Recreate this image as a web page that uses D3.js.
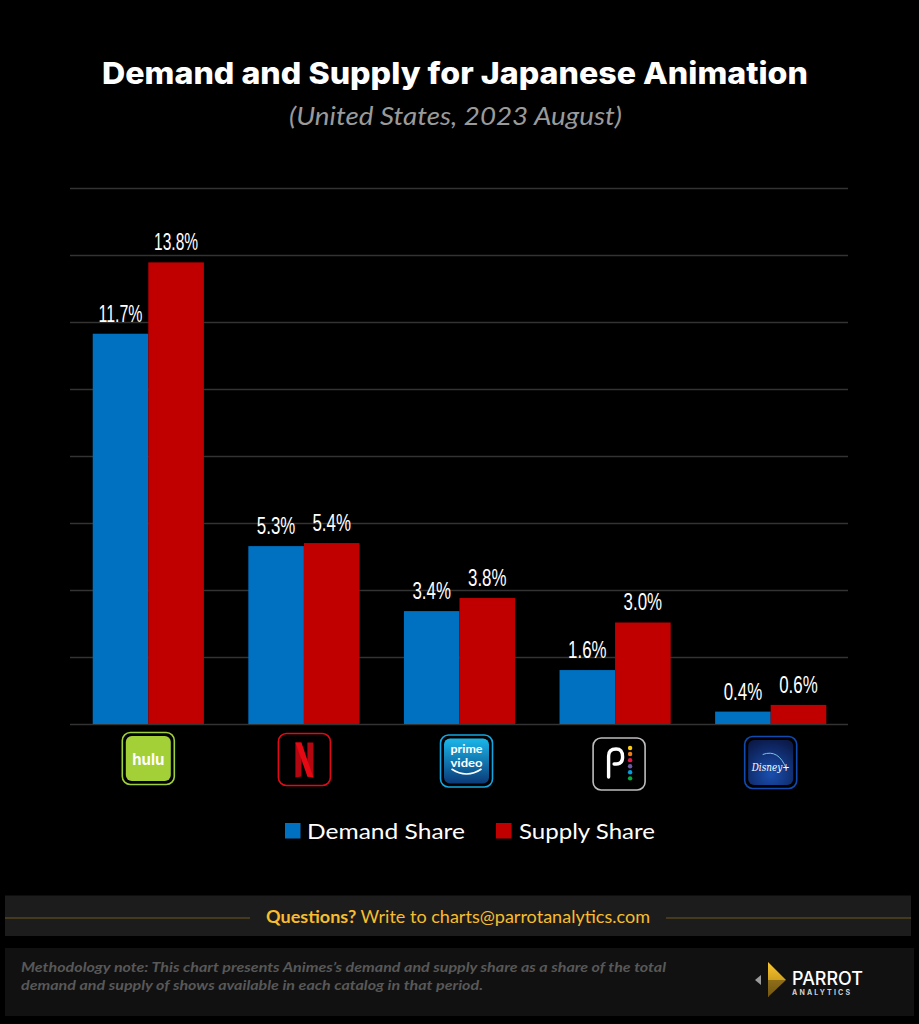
<!DOCTYPE html>
<html>
<head>
<meta charset="utf-8">
<title>Demand and Supply for Japanese Animation</title>
<script src="https://cdn.jsdelivr.net/npm/d3@7"></script>
<style>
  html, body { margin: 0; padding: 0; background: #000; }
  svg { display: block; font-family: "Lato", "Noto Sans", sans-serif; }
  .grid line { stroke: #333; stroke-width: 1.3; }
  .grid .domain { display: none; }
  .grid text { display: none; }
  .value { font-family: "Liberation Sans", sans-serif; fill: #fff; font-size: 23px; text-anchor: middle; }
</style>
</head>
<body>
<svg id="chart" width="919" height="1024"></svg>
<script>
var platforms = ["Hulu", "Netflix", "Prime Video", "Peacock", "Disney+"];
var demandShare = [11.65, 5.31, 3.37, 1.61, 0.37];
var supplyShare = [13.78, 5.4, 3.76, 3.03, 0.57];
var seriesNames = ["Demand Share", "Supply Share"];
var seriesColors = ["#0070c0", "#c00000"];
var gridTicks = [0, 2, 4, 6, 8, 10, 12, 14, 16];
var peacockDots = ["#fccc12", "#ef7f1a", "#e6194b", "#6e5ba6", "#069de0", "#05ac3f"];

var svg = d3.select("#chart");
var width = 919, height = 1024;

svg.append("rect").attr("width", width).attr("height", height).attr("fill", "#000");

// title
svg.append("text").attr("x", 455).attr("y", 84)
  .attr("text-anchor", "middle").attr("fill", "#fff")
  .attr("font-size", 30).attr("font-weight", 800)
  .attr("font-family", "Inter, sans-serif")
  .attr("textLength", 706).attr("lengthAdjust", "spacingAndGlyphs")
  .text("Demand and Supply for Japanese Animation");
svg.append("text").attr("x", 455.5).attr("y", 125)
  .attr("text-anchor", "middle").attr("fill", "#9a9a9a")
  .attr("font-size", 25).attr("font-style", "italic")
  .attr("textLength", 333).attr("lengthAdjust", "spacingAndGlyphs")
  .text("(United States, 2023 August)");

// scales
var x = d3.scaleBand().domain(platforms).range([70.5, 848.5]).paddingInner(0.2857).paddingOuter(0.1429);
var sub = d3.scaleBand().domain(seriesNames).range([0, x.bandwidth()]);
var y = d3.scaleLinear().domain([0, 16]).range([724, 188]);

// gridlines
svg.append("g").attr("class", "grid")
  .attr("transform", "translate(70,0)")
  .call(d3.axisRight(y).tickValues(gridTicks).tickSize(778));

// bars
var rows = platforms.map(function (p, i) {
  return { platform: p, values: [demandShare[i], supplyShare[i]] };
});
var groups = svg.selectAll(".platform").data(rows).enter().append("g")
  .attr("class", "platform")
  .attr("transform", function (d) { return "translate(" + x(d.platform) + ",0)"; });

groups.selectAll("rect")
  .data(function (d) { return d.values; })
  .enter().append("rect")
  .attr("x", function (d, i) { return sub(seriesNames[i]); })
  .attr("width", sub.bandwidth())
  .attr("y", function (d) { return y(d); })
  .attr("height", function (d) { return y(0) - y(d); })
  .attr("fill", function (d, i) { return seriesColors[i]; });

// narrow labels, no condensed font here so squeeze them
groups.selectAll("text")
  .data(function (d) { return d.values; })
  .enter().append("text")
  .attr("class", "value")
  .attr("x", function (d, i) { return sub(seriesNames[i]) + sub.bandwidth() / 2; })
  .attr("y", function (d) { return y(d) - 12; })
  .attr("textLength", function (d) { return d >= 10 ? 44 : 38.5; })
  .attr("lengthAdjust", "spacingAndGlyphs")
  .text(function (d) { return d.toFixed(1) + "%"; });

// logos under the axis
var defs = svg.append("defs");
var primeGrad = defs.append("linearGradient").attr("id", "primeGrad").attr("x1", 0).attr("y1", 0).attr("x2", 0).attr("y2", 1);
primeGrad.append("stop").attr("offset", 0).attr("stop-color", "#1ab7ea");
primeGrad.append("stop").attr("offset", 1).attr("stop-color", "#0a3a78");
var disneyGrad = defs.append("radialGradient").attr("id", "disneyGrad").attr("cy", 0.75).attr("r", 0.8);
disneyGrad.append("stop").attr("offset", 0).attr("stop-color", "#1a4fb0");
disneyGrad.append("stop").attr("offset", 1).attr("stop-color", "#0b1a4a");
var goldGrad = defs.append("linearGradient").attr("id", "goldGrad").attr("x1", 0).attr("y1", 0).attr("x2", 0).attr("y2", 1);
goldGrad.append("stop").attr("offset", 0).attr("stop-color", "#fcc72c");
goldGrad.append("stop").attr("offset", 1).attr("stop-color", "#a87c12");

var logoTop = { "Hulu": 732.5, "Netflix": 733.5, "Prime Video": 735, "Peacock": 738, "Disney+": 736.5 };
var logoShift = { "Hulu": 0, "Netflix": 0.5, "Prime Video": 7, "Peacock": 4, "Disney+": 0 };
var logoBorder = { "Hulu": "#9fcf3a", "Netflix": "#e50914", "Prime Video": "#13a6e0", "Peacock": "#bdbdbd", "Disney+": "#0f4bb0" };

var logos = svg.selectAll(".logo").data(platforms).enter().append("g")
  .attr("class", "logo")
  .attr("transform", function (d) { return "translate(" + (x(d) + x.bandwidth() / 2 + logoShift[d]) + "," + (logoTop[d] + 26) + ")"; });
logos.append("rect")
  .attr("x", -26).attr("y", -26).attr("width", 52).attr("height", 52).attr("rx", 8)
  .attr("fill", "#000").attr("stroke", function (d) { return logoBorder[d]; }).attr("stroke-width", 1.6);

var hulu = logos.filter(function (d) { return d === "Hulu"; });
hulu.append("rect").attr("x", -22.5).attr("y", -22.5).attr("width", 45).attr("height", 45).attr("rx", 6).attr("fill", "#a4d037");
hulu.append("text").attr("y", 6).attr("text-anchor", "middle").attr("fill", "#fff")
  .attr("font-size", 16).attr("font-weight", 700).attr("font-family", "Inter, sans-serif")
  .attr("textLength", 32).attr("lengthAdjust", "spacingAndGlyphs").text("hulu");

var netflix = logos.filter(function (d) { return d === "Netflix"; });
netflix.append("path").attr("d", "M-9,-17 H-3 V17 L-9,18 Z").attr("fill", "#b20710");
netflix.append("path").attr("d", "M3,-17 H9 V18 L3,17 Z").attr("fill", "#b20710");
netflix.append("path").attr("d", "M-9,-17 H-3 L9,18 L3,17 Z").attr("fill", "#e50914");

var prime = logos.filter(function (d) { return d === "Prime Video"; });
prime.append("rect").attr("x", -22.5).attr("y", -22.5).attr("width", 45).attr("height", 45).attr("rx", 6).attr("fill", "url(#primeGrad)");
prime.append("text").attr("y", -8.5).attr("text-anchor", "middle").attr("fill", "#fff")
  .attr("font-size", 12).attr("font-weight", 700).attr("font-family", "Lato, sans-serif")
  .attr("textLength", 32).attr("lengthAdjust", "spacingAndGlyphs").text("prime");
prime.append("text").attr("y", 6).attr("text-anchor", "middle").attr("fill", "#fff")
  .attr("font-size", 12).attr("font-weight", 700).attr("font-family", "Lato, sans-serif")
  .attr("textLength", 32).attr("lengthAdjust", "spacingAndGlyphs").text("video");
prime.append("path").attr("d", "M-15,8 Q0,18 15,8").attr("fill", "none").attr("stroke", "#fff").attr("stroke-width", 1.6);

var peacock = logos.filter(function (d) { return d === "Peacock"; });
peacock.append("path").attr("d", "M-10.5,13 V-8 Q-10.5,-15 -3,-15 Q3.5,-15 3.5,-7 Q3.5,0 -3,0 L-5,0")
  .attr("fill", "none").attr("stroke", "#fff").attr("stroke-width", 3.4).attr("stroke-linecap", "round");
peacock.selectAll("circle").data(peacockDots).enter().append("circle")
  .attr("cx", 11).attr("cy", function (d, i) { return -16 + i * 6.07; }).attr("r", 2.2)
  .attr("fill", function (d) { return d; });

var disney = logos.filter(function (d) { return d === "Disney+"; });
disney.append("rect").attr("x", -22.5).attr("y", -22.5).attr("width", 45).attr("height", 45).attr("rx", 6).attr("fill", "url(#disneyGrad)");
disney.append("path").attr("d", "M-8,-8 Q8,-14 16,7").attr("fill", "none").attr("stroke", "#7fc4ea").attr("stroke-width", 1);
disney.append("text").attr("y", 8).attr("text-anchor", "middle").attr("fill", "#fff")
  .attr("font-size", 11).attr("font-style", "italic").attr("font-family", "DejaVu Serif, serif").attr("textLength", 38).attr("lengthAdjust", "spacingAndGlyphs").text("Disney+");

// legend
var legendSquareX = [285, 496];
var legendTextX = [307, 519];
var legendWidths = [158, 136];
var legend = svg.selectAll(".legend").data(seriesNames).enter().append("g").attr("class", "legend");
legend.append("rect")
  .attr("x", function (d, i) { return legendSquareX[i]; }).attr("y", 823)
  .attr("width", 15.5).attr("height", 15.5)
  .attr("fill", function (d, i) { return seriesColors[i]; });
legend.append("text")
  .attr("x", function (d, i) { return legendTextX[i]; }).attr("y", 838.5)
  .attr("fill", "#fff").attr("font-size", 21.5)
  .attr("textLength", function (d, i) { return legendWidths[i]; }).attr("lengthAdjust", "spacingAndGlyphs")
  .text(function (d) { return d; });

// questions bar
svg.append("rect").attr("x", 5).attr("y", 895.5).attr("width", 906).attr("height", 40.5).attr("fill", "#1c1c1c");
svg.append("line").attr("x1", 5).attr("x2", 250).attr("y1", 918).attr("y2", 918).attr("stroke", "#6e5620");
svg.append("line").attr("x1", 666).attr("x2", 911).attr("y1", 918).attr("y2", 918).attr("stroke", "#6e5620");
var q = svg.append("text").attr("x", 266).attr("y", 923).attr("fill", "#f7bd2e").attr("font-size", 16.5)
  .attr("textLength", 384).attr("lengthAdjust", "spacingAndGlyphs");
q.append("tspan").attr("font-weight", 700).text("Questions?");
q.append("tspan").text(" Write to charts@parrotanalytics.com");

// methodology bar
svg.append("rect").attr("x", 5).attr("y", 948).attr("width", 909).attr("height", 68).attr("fill", "#111");
svg.append("text").attr("x", 21).attr("y", 972).attr("fill", "#585858").attr("font-size", 13.5)
  .attr("font-weight", 700).attr("font-style", "italic")
  .attr("textLength", 645).attr("lengthAdjust", "spacingAndGlyphs")
  .text("Methodology note: This chart presents Animes’s demand and supply share as a share of the total");
svg.append("text").attr("x", 21).attr("y", 990).attr("fill", "#585858").attr("font-size", 13.5)
  .attr("font-weight", 700).attr("font-style", "italic")
  .attr("textLength", 462).attr("lengthAdjust", "spacingAndGlyphs")
  .text("demand and supply of shows available in each catalog in that period.");

// parrot logo
var parrot = svg.append("g").attr("transform", "translate(755,962)");
parrot.append("path").attr("d", "M0,18 L6,13 V23 Z").attr("fill", "#9a9a9a");
parrot.append("path").attr("d", "M13,0 L31,18 L13,35 Z").attr("fill", "url(#goldGrad)");
parrot.selectAll(".stripe").data(d3.range(19, 35, 2)).enter().append("line")
  .attr("class", "stripe")
  .attr("x1", 13).attr("x2", 31).attr("y1", function (d) { return d; }).attr("y2", function (d) { return d; })
  .attr("stroke", "#111").attr("stroke-width", 0.7);
parrot.append("text").attr("x", 37).attr("y", 23).attr("fill", "#fff").attr("font-size", 18).attr("font-weight", 500)
  .attr("font-family", "Inter, sans-serif").attr("textLength", 71).attr("lengthAdjust", "spacingAndGlyphs").text("PARROT");
parrot.append("text").attr("x", 37).attr("y", 33).attr("fill", "#d0d0d0").attr("font-size", 7).attr("font-weight", 700)
  .attr("font-family", "Inter, sans-serif").attr("textLength", 58).text("ANALYTICS");
</script>
</body>
</html>
